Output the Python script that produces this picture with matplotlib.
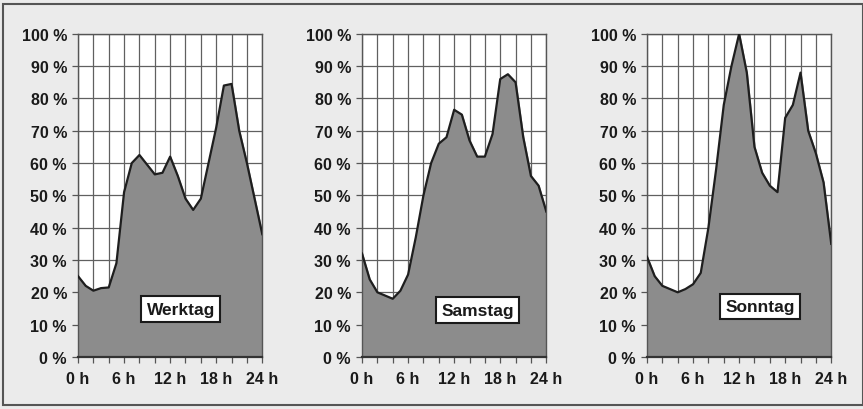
import matplotlib.pyplot as plt
from matplotlib.patches import Rectangle

hours = list(range(25))

werktag = [25, 22, 20.5, 21.3, 21.5, 29, 51, 60, 62.5, 59.5, 56.5, 57, 62,
           56, 49, 45.5, 49, 60, 71, 84, 84.5, 70, 60, 49, 38]
samstag = [32, 24, 20, 19, 18, 20.5, 25.5, 37, 50, 60, 66, 68, 76.5,
           75, 67, 62, 62, 69, 86, 87.5, 85, 68, 56, 53, 45]
sonntag = [31, 25, 22, 21, 20, 21, 22.5, 26, 40, 58, 78, 90, 100,
           88, 65, 57, 53, 51, 74, 78, 88, 70, 63, 54, 35]

panels = [('Werktag', werktag, 13.4, 14.8),
          ('Samstag', samstag, 15.1, 14.5),
          ('Sonntag', sonntag, 14.7, 15.6)]

y_ticks = list(range(0, 101, 10))
y_labels = ['{} %'.format(v) for v in y_ticks]
x_ticks = [0, 6, 12, 18, 24]
x_labels = ['{} h'.format(v) for v in x_ticks]

plt.rcParams['font.family'] = ['Liberation Sans', 'DejaVu Sans']
plt.rcParams['font.weight'] = 'bold'

fig = plt.figure(figsize=(8.63, 4.10), dpi=100, facecolor='#ebebeb')
fig.patches.append(Rectangle((0.004, 0.01), 0.996, 0.978, transform=fig.transFigure,
                             fill=False, edgecolor='#555555', linewidth=1.5))

lefts = [0.0904, 0.4195, 0.7497]
for left, (name, vals, lx, ly) in zip(lefts, panels):
    ax = fig.add_axes([left, 0.127, 0.2135, 0.788])
    ax.set_facecolor('white')
    ax.fill_between(hours, vals, 0, color='#8c8c8c', zorder=2)
    ax.plot(hours, vals, color='#1e1e1e', linewidth=1.6, zorder=3)
    ax.set_xlim(0, 24)
    ax.set_ylim(0, 100)
    ax.set_xticks(range(0, 25, 2), minor=True)
    ax.set_yticks(y_ticks)
    ax.set_yticklabels(y_labels)
    ax.set_xticks(x_ticks)
    ax.set_xticklabels(x_labels)
    ax.grid(True, which='both', axis='x', color='#606060', linewidth=0.9, zorder=1)
    ax.grid(True, which='major', axis='y', color='#606060', linewidth=0.9, zorder=1)
    ax.set_axisbelow(True)
    ax.tick_params(axis='both', which='both', length=4, width=0.9, color='#555555',
                   labelsize=11.5, labelcolor='#1a1a1a', pad=4)
    ax.tick_params(axis='x', which='major', pad=6)
    for s in ax.spines.values():
        s.set_color('#555555')
        s.set_linewidth(1.0)
    ax.spines['bottom'].set_color('#333333')
    ax.spines['bottom'].set_linewidth(1.6)
    ax.text(lx, ly, name, ha='center', va='center', fontsize=12.5, fontweight='bold',
            color='#1a1a1a', zorder=5,
            bbox=dict(boxstyle='square,pad=0.3', facecolor='white',
                      edgecolor='#1a1a1a', linewidth=1.5))

fig.savefig('out.png', dpi=100, facecolor=fig.get_facecolor())
